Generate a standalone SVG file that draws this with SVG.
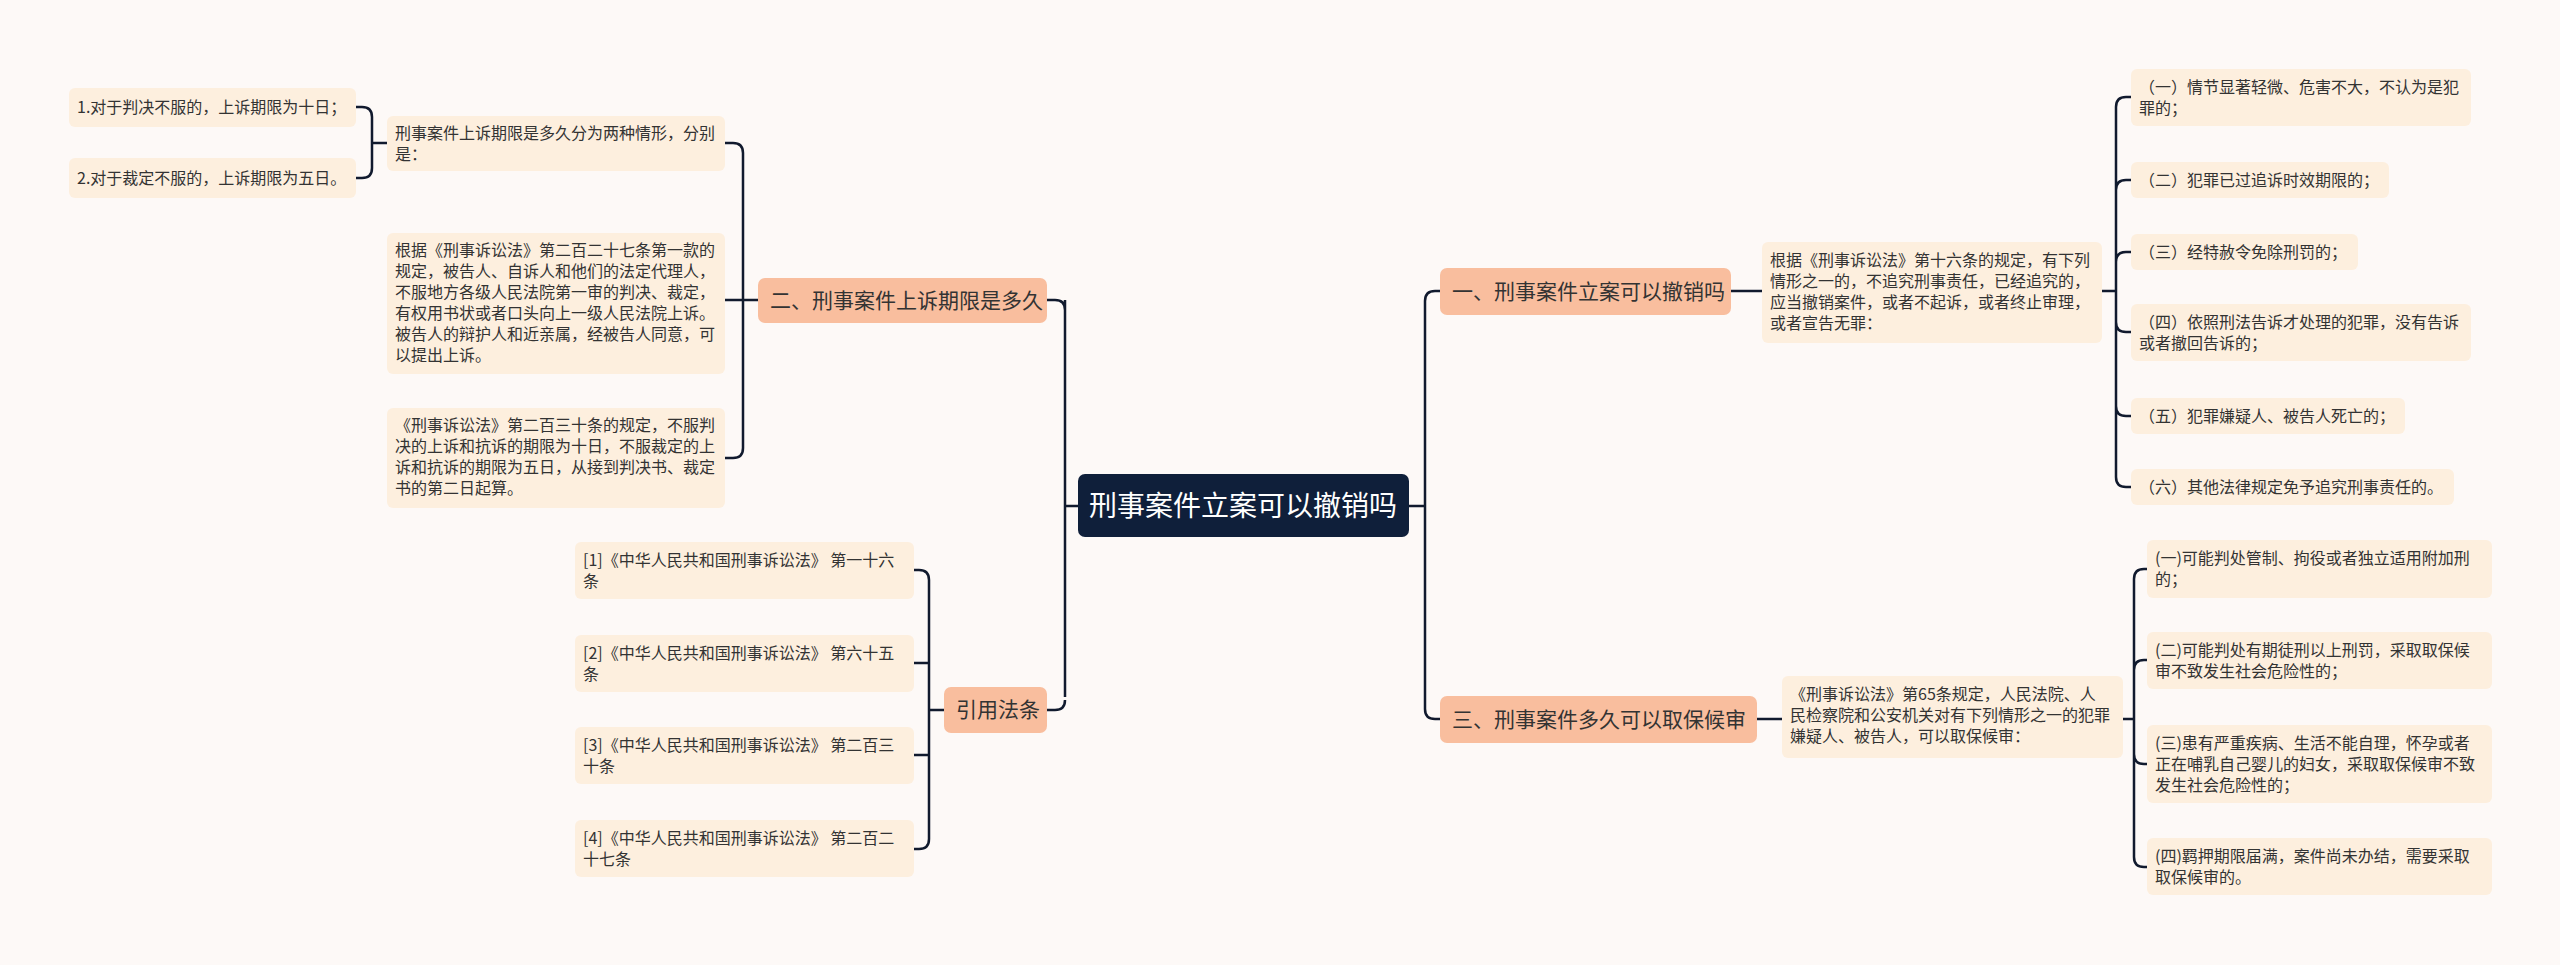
<svg xmlns="http://www.w3.org/2000/svg" width="2560" height="965" viewBox="0 0 2560 965">
<style>
text{font-family:"Noto Sans CJK SC","Liberation Sans",sans-serif;fill:#333}
.b{fill:#fdefde}
.l1{fill:#f9be9e}
.s{font-size:16px}
.m{font-size:21px}
.c path{fill:none;stroke:#111a2e;stroke-width:2.5}
</style>
<rect width="2560" height="965" fill="#fdf9f7"/>
<g class="c">
<!-- root left -->
<path d="M1078,506 H1065 M1065,300 V697 M1065,310 Q1065,300 1055,300 H1047 M1065,700 Q1065,710 1055,710 H1047"/>
<!-- root right -->
<path d="M1409,506 H1425 M1425,301 V709 M1425,301 Q1425,291 1435,291 H1440 M1425,709 Q1425,719 1435,719 H1440"/>
<!-- 二 children -->
<path d="M758,300 H743 M743,153 Q743,143 733,143 H725 M743,153 V448 Q743,458 733,458 H725 M743,300 H725"/>
<!-- A children -->
<path d="M387,143 H372 M372,117 Q372,107 362,107 H356 M372,117 V168 Q372,178 362,178 H356"/>
<!-- refs -->
<path d="M944,710 H929 M929,580 Q929,570 919,570 H914 M929,580 V839 Q929,849 919,849 H914 M929,663 H914 M929,755 H914"/>
<!-- desc1 -->
<path d="M1731,291 H1762"/>
<path d="M2102,291 H2116 M2116,107 Q2116,97 2126,97 H2131 M2116,107 V477 Q2116,487 2126,487 H2131 M2116,190 Q2116,180 2126,180 H2131 M2116,262 Q2116,252 2126,252 H2131 M2116,322 Q2116,332 2126,332 H2131 M2116,406 Q2116,416 2126,416 H2131"/>
<!-- desc3 -->
<path d="M1757,719 H1782"/>
<path d="M2123,719 H2134 M2134,579 Q2134,569 2144,569 H2147 M2134,579 V857 Q2134,867 2144,867 H2147 M2134,670 Q2134,660 2144,660 H2147 M2134,754 Q2134,764 2144,764 H2147"/>
</g>
<g id="root"><rect x="1078" y="474" width="331" height="63" rx="7" fill="#0f1f3a"/><text x="1243" y="516" font-size="28" text-anchor="middle" style="fill:#fff">刑事案件立案可以撤销吗</text></g>
<g id="n2"><rect class="l1" x="758" y="278" width="289" height="45" rx="7"/><text class="m" x="770" y="308">二、刑事案件上诉期限是多久</text></g>
<g id="nref"><rect class="l1" x="944" y="687" width="103" height="46" rx="7"/><text class="m" x="956" y="717">引用法条</text></g>
<g id="n1"><rect class="l1" x="1440" y="268" width="291" height="47" rx="7"/><text class="m" x="1452" y="299">一、刑事案件立案可以撤销吗</text></g>
<g id="n3"><rect class="l1" x="1440" y="696" width="317" height="47" rx="7"/><text class="m" x="1452" y="727">三、刑事案件多久可以取保候审</text></g>

<g id="a"><rect class="b" x="387" y="116" width="338" height="55" rx="6"/><text class="s" x="395" y="139">刑事案件上诉期限是多久分为两种情形，分别<tspan x="395" dy="21">是：</tspan></text></g>
<g id="a1"><rect class="b" x="69" y="88" width="287" height="39" rx="6"/><text class="s" x="77" y="113">1.对于判决不服的，上诉期限为十日；</text></g>
<g id="a2"><rect class="b" x="69" y="158" width="287" height="40" rx="6"/><text class="s" x="77" y="184">2.对于裁定不服的，上诉期限为五日。</text></g>
<g id="b"><rect class="b" x="387" y="233" width="338" height="141" rx="6"/><text class="s" x="395" y="256">根据《刑事诉讼法》第二百二十七条第一款的<tspan x="395" dy="21">规定，被告人、自诉人和他们的法定代理人，</tspan><tspan x="395" dy="21">不服地方各级人民法院第一审的判决、裁定，</tspan><tspan x="395" dy="21">有权用书状或者口头向上一级人民法院上诉。</tspan><tspan x="395" dy="21">被告人的辩护人和近亲属，经被告人同意，可</tspan><tspan x="395" dy="21">以提出上诉。</tspan></text></g>
<g id="c"><rect class="b" x="387" y="408" width="338" height="100" rx="6"/><text class="s" x="395" y="431">《刑事诉讼法》第二百三十条的规定，不服判<tspan x="395" dy="21">决的上诉和抗诉的期限为十日，不服裁定的上</tspan><tspan x="395" dy="21">诉和抗诉的期限为五日，从接到判决书、裁定</tspan><tspan x="395" dy="21">书的第二日起算。</tspan></text></g>

<g id="r1"><rect class="b" x="575" y="542" width="339" height="57" rx="6"/><text class="s" x="583" y="566">[1]《中华人民共和国刑事诉讼法》 第一十六<tspan x="583" dy="21">条</tspan></text></g>
<g id="r2"><rect class="b" x="575" y="635" width="339" height="57" rx="6"/><text class="s" x="583" y="659">[2]《中华人民共和国刑事诉讼法》 第六十五<tspan x="583" dy="21">条</tspan></text></g>
<g id="r3"><rect class="b" x="575" y="727" width="339" height="57" rx="6"/><text class="s" x="583" y="751">[3]《中华人民共和国刑事诉讼法》 第二百三<tspan x="583" dy="21">十条</tspan></text></g>
<g id="r4"><rect class="b" x="575" y="820" width="339" height="57" rx="6"/><text class="s" x="583" y="844">[4]《中华人民共和国刑事诉讼法》 第二百二<tspan x="583" dy="21">十七条</tspan></text></g>

<g id="d1"><rect class="b" x="1762" y="242" width="340" height="101" rx="6"/><text class="s" x="1770" y="266">根据《刑事诉讼法》第十六条的规定，有下列<tspan x="1770" dy="21">情形之一的，不追究刑事责任，已经追究的，</tspan><tspan x="1770" dy="21">应当撤销案件，或者不起诉，或者终止审理，</tspan><tspan x="1770" dy="21">或者宣告无罪：</tspan></text></g>
<g id="i1"><rect class="b" x="2131" y="69" width="340" height="57" rx="6"/><text class="s" x="2139" y="93">（一）情节显著轻微、危害不大，不认为是犯<tspan x="2139" dy="21">罪的；</tspan></text></g>
<g id="i2"><rect class="b" x="2131" y="162" width="258" height="36" rx="6"/><text class="s" x="2139" y="186">（二）犯罪已过追诉时效期限的；</text></g>
<g id="i3"><rect class="b" x="2131" y="234" width="227" height="36" rx="6"/><text class="s" x="2139" y="258">（三）经特赦令免除刑罚的；</text></g>
<g id="i4"><rect class="b" x="2131" y="304" width="340" height="57" rx="6"/><text class="s" x="2139" y="328">（四）依照刑法告诉才处理的犯罪，没有告诉<tspan x="2139" dy="21">或者撤回告诉的；</tspan></text></g>
<g id="i5"><rect class="b" x="2131" y="398" width="274" height="36" rx="6"/><text class="s" x="2139" y="422">（五）犯罪嫌疑人、被告人死亡的；</text></g>
<g id="i6"><rect class="b" x="2131" y="469" width="323" height="36" rx="6"/><text class="s" x="2139" y="493">（六）其他法律规定免予追究刑事责任的。</text></g>

<g id="d3"><rect class="b" x="1782" y="676" width="341" height="82" rx="6"/><text class="s" x="1790" y="700">《刑事诉讼法》第65条规定，人民法院、人<tspan x="1790" dy="21">民检察院和公安机关对有下列情形之一的犯罪</tspan><tspan x="1790" dy="21">嫌疑人、被告人，可以取保候审：</tspan></text></g>
<g id="j1"><rect class="b" x="2147" y="540" width="345" height="58" rx="6"/><text class="s" x="2155" y="564">(一)可能判处管制、拘役或者独立适用附加刑<tspan x="2155" dy="21">的；</tspan></text></g>
<g id="j2"><rect class="b" x="2147" y="632" width="345" height="57" rx="6"/><text class="s" x="2155" y="656">(二)可能判处有期徒刑以上刑罚，采取取保候<tspan x="2155" dy="21">审不致发生社会危险性的；</tspan></text></g>
<g id="j3"><rect class="b" x="2147" y="725" width="345" height="78" rx="6"/><text class="s" x="2155" y="749">(三)患有严重疾病、生活不能自理，怀孕或者<tspan x="2155" dy="21">正在哺乳自己婴儿的妇女，采取取保候审不致</tspan><tspan x="2155" dy="21">发生社会危险性的；</tspan></text></g>
<g id="j4"><rect class="b" x="2147" y="838" width="345" height="57" rx="6"/><text class="s" x="2155" y="862">(四)羁押期限届满，案件尚未办结，需要采取<tspan x="2155" dy="21">取保候审的。</tspan></text></g>
</svg>
